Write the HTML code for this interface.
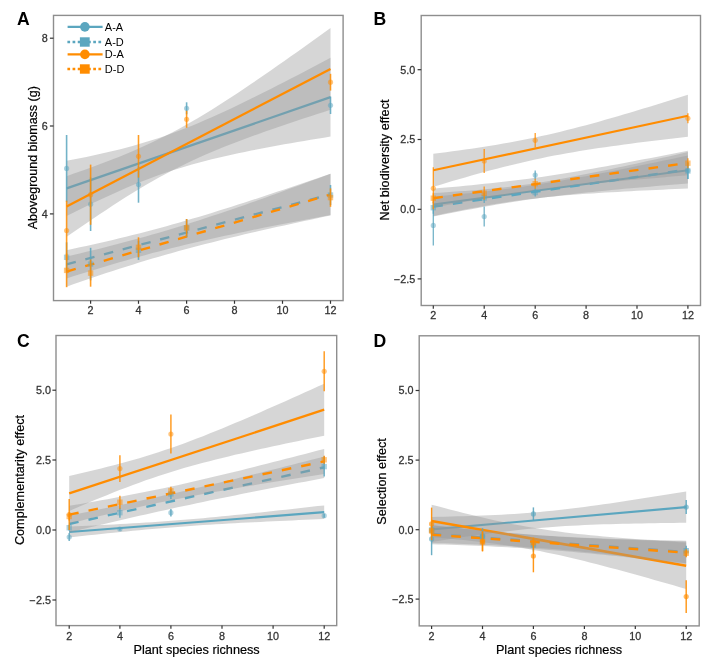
<!DOCTYPE html>
<html lang="en"><head><meta charset="utf-8"><title>Figure</title>
<style>
html,body{margin:0;padding:0;background:#fff;}
svg{display:block;}
text{font-family:"Liberation Sans", Arial, Helvetica, sans-serif;}
.tk{font-size:10px;fill:#333;stroke:#333;stroke-width:0.25px;}
.ti{font-size:12.7px;fill:#000;stroke:#000;stroke-width:0.2px;}
.lt{font-size:17.6px;font-weight:bold;fill:#000;}
.lg{font-size:11px;fill:#000;}
</style></head>
<body>
<svg width="714" height="662" viewBox="0 0 714 662">
<rect width="714" height="662" fill="#ffffff"/>
<g>
<path d="M66.6,160.83 L73.2,159.55 L79.79,158.24 L86.39,156.89 L92.99,155.5 L99.59,154.05 L106.18,152.56 L112.78,151 L119.38,149.38 L125.98,147.68 L132.57,145.91 L139.17,144.05 L145.77,142.1 L152.37,140.05 L158.96,137.9 L165.56,135.65 L172.16,133.3 L178.76,130.85 L185.35,128.3 L191.95,125.65 L198.55,122.92 L205.15,120.1 L211.74,117.2 L218.34,114.24 L224.94,111.21 L231.54,108.13 L238.13,104.99 L244.73,101.8 L251.33,98.58 L257.93,95.31 L264.52,92.02 L271.12,88.69 L277.72,85.34 L284.32,81.96 L290.91,78.56 L297.51,75.14 L304.11,71.71 L310.71,68.25 L317.3,64.79 L323.9,61.31 L330.5,57.82 L330.5,136.58 L323.9,137.65 L317.3,138.73 L310.71,139.83 L304.11,140.93 L297.51,142.06 L290.91,143.2 L284.32,144.36 L277.72,145.54 L271.12,146.75 L264.52,147.98 L257.93,149.25 L251.33,150.54 L244.73,151.88 L238.13,153.25 L231.54,154.67 L224.94,156.15 L218.34,157.68 L211.74,159.28 L205.15,160.94 L198.55,162.68 L191.95,164.51 L185.35,166.42 L178.76,168.43 L172.16,170.54 L165.56,172.75 L158.96,175.06 L152.37,177.47 L145.77,179.98 L139.17,182.59 L132.57,185.29 L125.98,188.08 L119.38,190.94 L112.78,193.88 L106.18,196.88 L99.59,199.95 L92.99,203.06 L86.39,206.23 L79.79,209.44 L73.2,212.69 L66.6,215.97Z" fill="#999999" fill-opacity="0.4"/>
<line x1="66.6" y1="188.4" x2="330.5" y2="97.2" stroke="#5BA6BF" stroke-width="2.3"/>
<path d="M66.6,250.16 L73.2,248.76 L79.79,247.34 L86.39,245.9 L92.99,244.44 L99.59,242.95 L106.18,241.44 L112.78,239.9 L119.38,238.33 L125.98,236.72 L132.57,235.09 L139.17,233.42 L145.77,231.72 L152.37,229.98 L158.96,228.21 L165.56,226.41 L172.16,224.57 L178.76,222.7 L185.35,220.79 L191.95,218.86 L198.55,216.9 L205.15,214.9 L211.74,212.89 L218.34,210.84 L224.94,208.78 L231.54,206.69 L238.13,204.59 L244.73,202.46 L251.33,200.32 L257.93,198.16 L264.52,195.99 L271.12,193.8 L277.72,191.6 L284.32,189.39 L290.91,187.17 L297.51,184.94 L304.11,182.7 L310.71,180.45 L317.3,178.2 L323.9,175.94 L330.5,173.67 L330.5,214.93 L323.9,216.16 L317.3,217.4 L310.71,218.65 L304.11,219.9 L297.51,221.16 L290.91,222.43 L284.32,223.71 L277.72,225 L271.12,226.3 L264.52,227.61 L257.93,228.94 L251.33,230.28 L244.73,231.64 L238.13,233.01 L231.54,234.41 L224.94,235.82 L218.34,237.26 L211.74,238.71 L205.15,240.2 L198.55,241.7 L191.95,243.24 L185.35,244.81 L178.76,246.4 L172.16,248.03 L165.56,249.69 L158.96,251.39 L152.37,253.12 L145.77,254.88 L139.17,256.68 L132.57,258.51 L125.98,260.38 L119.38,262.27 L112.78,264.2 L106.18,266.16 L99.59,268.15 L92.99,270.16 L86.39,272.2 L79.79,274.26 L73.2,276.34 L66.6,278.44Z" fill="#999999" fill-opacity="0.4"/>
<line x1="66.6" y1="264.3" x2="330.5" y2="194.3" stroke="#5BA6BF" stroke-width="2.35" stroke-dasharray="9.5 9.85"/>
<path d="M66.6,176.16 L73.2,173.87 L79.79,171.55 L86.39,169.19 L92.99,166.79 L99.59,164.34 L106.18,161.84 L112.78,159.28 L119.38,156.66 L125.98,153.96 L132.57,151.19 L139.17,148.32 L145.77,145.36 L152.37,142.3 L158.96,139.12 L165.56,135.83 L172.16,132.43 L178.76,128.91 L185.35,125.27 L191.95,121.52 L198.55,117.66 L205.15,113.7 L211.74,109.65 L218.34,105.52 L224.94,101.3 L231.54,97.02 L238.13,92.67 L244.73,88.27 L251.33,83.82 L257.93,79.32 L264.52,74.78 L271.12,70.21 L277.72,65.61 L284.32,60.98 L290.91,56.32 L297.51,51.65 L304.11,46.95 L310.71,42.24 L317.3,37.51 L323.9,32.76 L330.5,28 L330.5,109.8 L323.9,111.92 L317.3,114.05 L310.71,116.2 L304.11,118.37 L297.51,120.55 L290.91,122.76 L284.32,124.98 L277.72,127.23 L271.12,129.51 L264.52,131.82 L257.93,134.16 L251.33,136.54 L244.73,138.97 L238.13,141.45 L231.54,143.98 L224.94,146.58 L218.34,149.24 L211.74,151.99 L205.15,154.82 L198.55,157.74 L191.95,160.76 L185.35,163.89 L178.76,167.13 L172.16,170.49 L165.56,173.97 L158.96,177.56 L152.37,181.26 L145.77,185.08 L139.17,189 L132.57,193.01 L125.98,197.12 L119.38,201.3 L112.78,205.56 L106.18,209.88 L99.59,214.26 L92.99,218.69 L86.39,223.17 L79.79,227.69 L73.2,232.25 L66.6,236.84Z" fill="#999999" fill-opacity="0.4"/>
<line x1="66.6" y1="206.5" x2="330.5" y2="68.9" stroke="#FF8C00" stroke-width="2.3"/>
<path d="M66.6,256.55 L73.2,255 L79.79,253.44 L86.39,251.86 L92.99,250.26 L99.59,248.63 L106.18,246.98 L112.78,245.3 L119.38,243.58 L125.98,241.84 L132.57,240.07 L139.17,238.26 L145.77,236.42 L152.37,234.55 L158.96,232.64 L165.56,230.69 L172.16,228.71 L178.76,226.69 L185.35,224.64 L191.95,222.56 L198.55,220.44 L205.15,218.3 L211.74,216.12 L218.34,213.92 L224.94,211.7 L231.54,209.45 L238.13,207.17 L244.73,204.88 L251.33,202.57 L257.93,200.24 L264.52,197.89 L271.12,195.53 L277.72,193.15 L284.32,190.76 L290.91,188.36 L297.51,185.95 L304.11,183.53 L310.71,181.1 L317.3,178.66 L323.9,176.21 L330.5,173.75 L330.5,215.45 L323.9,216.84 L317.3,218.24 L310.71,219.65 L304.11,221.07 L297.51,222.5 L290.91,223.94 L284.32,225.39 L277.72,226.85 L271.12,228.32 L264.52,229.81 L257.93,231.31 L251.33,232.83 L244.73,234.37 L238.13,235.93 L231.54,237.5 L224.94,239.1 L218.34,240.73 L211.74,242.38 L205.15,244.05 L198.55,245.76 L191.95,247.49 L185.35,249.26 L178.76,251.06 L172.16,252.89 L165.56,254.76 L158.96,256.66 L152.37,258.6 L145.77,260.58 L139.17,262.59 L132.57,264.63 L125.98,266.71 L119.38,268.82 L112.78,270.95 L106.18,273.12 L99.59,275.32 L92.99,277.54 L86.39,279.79 L79.79,282.06 L73.2,284.35 L66.6,286.65Z" fill="#999999" fill-opacity="0.4"/>
<line x1="66.6" y1="271.6" x2="330.5" y2="194.6" stroke="#FF8C00" stroke-width="2.35" stroke-dasharray="9.5 9.85"/>
<line x1="66.6" y1="135" x2="66.6" y2="201.8" stroke="#5BA6BF" stroke-width="1.6" opacity="0.85"/>
<circle cx="66.6" cy="168.4" r="2.6" fill="#5BA6BF" opacity="0.5"/>
<line x1="90.6" y1="177.4" x2="90.6" y2="231" stroke="#5BA6BF" stroke-width="1.6" opacity="0.85"/>
<circle cx="90.6" cy="204.2" r="2.6" fill="#5BA6BF" opacity="0.5"/>
<line x1="138.5" y1="166.5" x2="138.5" y2="202.7" stroke="#5BA6BF" stroke-width="1.6" opacity="0.85"/>
<circle cx="138.5" cy="184.6" r="2.6" fill="#5BA6BF" opacity="0.5"/>
<line x1="186.6" y1="102.3" x2="186.6" y2="114.3" stroke="#5BA6BF" stroke-width="1.6" opacity="0.85"/>
<circle cx="186.6" cy="108.3" r="2.6" fill="#5BA6BF" opacity="0.5"/>
<line x1="330.5" y1="96.6" x2="330.5" y2="114" stroke="#5BA6BF" stroke-width="1.6" opacity="0.85"/>
<circle cx="330.5" cy="105.3" r="2.6" fill="#5BA6BF" opacity="0.5"/>
<line x1="66.6" y1="242.3" x2="66.6" y2="272.3" stroke="#5BA6BF" stroke-width="1.6" opacity="0.85"/>
<rect x="63.9" y="254.6" width="5.4" height="5.4" fill="#5BA6BF" opacity="0.5"/>
<line x1="90.6" y1="247.8" x2="90.6" y2="280.4" stroke="#5BA6BF" stroke-width="1.6" opacity="0.85"/>
<rect x="87.9" y="261.4" width="5.4" height="5.4" fill="#5BA6BF" opacity="0.5"/>
<line x1="138.5" y1="240.7" x2="138.5" y2="259.9" stroke="#5BA6BF" stroke-width="1.6" opacity="0.85"/>
<rect x="135.8" y="247.6" width="5.4" height="5.4" fill="#5BA6BF" opacity="0.5"/>
<line x1="186.6" y1="219" x2="186.6" y2="237" stroke="#5BA6BF" stroke-width="1.6" opacity="0.85"/>
<rect x="183.9" y="225.3" width="5.4" height="5.4" fill="#5BA6BF" opacity="0.5"/>
<line x1="330.5" y1="185" x2="330.5" y2="205" stroke="#5BA6BF" stroke-width="1.6" opacity="0.85"/>
<rect x="327.8" y="192.3" width="5.4" height="5.4" fill="#5BA6BF" opacity="0.5"/>
<line x1="66.6" y1="200.7" x2="66.6" y2="260.3" stroke="#FF8C00" stroke-width="1.6" opacity="0.85"/>
<circle cx="66.6" cy="230.5" r="2.6" fill="#FF8C00" opacity="0.5"/>
<line x1="90.6" y1="164.6" x2="90.6" y2="224.8" stroke="#FF8C00" stroke-width="1.6" opacity="0.85"/>
<circle cx="90.6" cy="194.7" r="2.6" fill="#FF8C00" opacity="0.5"/>
<line x1="138.5" y1="135" x2="138.5" y2="177.6" stroke="#FF8C00" stroke-width="1.6" opacity="0.85"/>
<circle cx="138.5" cy="156.3" r="2.6" fill="#FF8C00" opacity="0.5"/>
<line x1="186.6" y1="110.8" x2="186.6" y2="127.8" stroke="#FF8C00" stroke-width="1.6" opacity="0.85"/>
<circle cx="186.6" cy="119.3" r="2.6" fill="#FF8C00" opacity="0.5"/>
<line x1="330.5" y1="73.8" x2="330.5" y2="90.6" stroke="#FF8C00" stroke-width="1.6" opacity="0.85"/>
<circle cx="330.5" cy="82.2" r="2.6" fill="#FF8C00" opacity="0.5"/>
<line x1="66.6" y1="253.6" x2="66.6" y2="287.2" stroke="#FF8C00" stroke-width="1.6" opacity="0.85"/>
<rect x="63.9" y="267.7" width="5.4" height="5.4" fill="#FF8C00" opacity="0.5"/>
<line x1="90.6" y1="259.5" x2="90.6" y2="286.7" stroke="#FF8C00" stroke-width="1.6" opacity="0.85"/>
<rect x="87.9" y="270.4" width="5.4" height="5.4" fill="#FF8C00" opacity="0.5"/>
<line x1="138.5" y1="237.3" x2="138.5" y2="257.3" stroke="#FF8C00" stroke-width="1.6" opacity="0.85"/>
<rect x="135.8" y="244.6" width="5.4" height="5.4" fill="#FF8C00" opacity="0.5"/>
<line x1="186.6" y1="219" x2="186.6" y2="236.6" stroke="#FF8C00" stroke-width="1.6" opacity="0.85"/>
<rect x="183.9" y="225.1" width="5.4" height="5.4" fill="#FF8C00" opacity="0.5"/>
<line x1="330.5" y1="188.4" x2="330.5" y2="206.8" stroke="#FF8C00" stroke-width="1.6" opacity="0.85"/>
<rect x="327.8" y="194.9" width="5.4" height="5.4" fill="#FF8C00" opacity="0.5"/>
<rect x="53.5" y="15.4" width="289.6" height="285.2" fill="none" stroke="#8e8e8e" stroke-width="1.4"/>
<line x1="90.6" y1="300.6" x2="90.6" y2="303.8" stroke="#333" stroke-width="1.2"/>
<text transform="translate(90.6,313.9) scale(1.08,1)" text-anchor="middle" class="tk">2</text>
<line x1="138.5" y1="300.6" x2="138.5" y2="303.8" stroke="#333" stroke-width="1.2"/>
<text transform="translate(138.5,313.9) scale(1.08,1)" text-anchor="middle" class="tk">4</text>
<line x1="186.6" y1="300.6" x2="186.6" y2="303.8" stroke="#333" stroke-width="1.2"/>
<text transform="translate(186.6,313.9) scale(1.08,1)" text-anchor="middle" class="tk">6</text>
<line x1="234.5" y1="300.6" x2="234.5" y2="303.8" stroke="#333" stroke-width="1.2"/>
<text transform="translate(234.5,313.9) scale(1.08,1)" text-anchor="middle" class="tk">8</text>
<line x1="282.5" y1="300.6" x2="282.5" y2="303.8" stroke="#333" stroke-width="1.2"/>
<text transform="translate(282.5,313.9) scale(1.08,1)" text-anchor="middle" class="tk">10</text>
<line x1="330.5" y1="300.6" x2="330.5" y2="303.8" stroke="#333" stroke-width="1.2"/>
<text transform="translate(330.5,313.9) scale(1.08,1)" text-anchor="middle" class="tk">12</text>
<line x1="49.9" y1="38.2" x2="53.5" y2="38.2" stroke="#333" stroke-width="1.2"/>
<text transform="translate(47.8,42.1) scale(1.08,1)" text-anchor="end" class="tk">8</text>
<line x1="49.9" y1="126" x2="53.5" y2="126" stroke="#333" stroke-width="1.2"/>
<text transform="translate(47.8,129.9) scale(1.08,1)" text-anchor="end" class="tk">6</text>
<line x1="49.9" y1="213.9" x2="53.5" y2="213.9" stroke="#333" stroke-width="1.2"/>
<text transform="translate(47.8,217.8) scale(1.08,1)" text-anchor="end" class="tk">4</text>
<text transform="translate(36.8,157.7) rotate(-90)" text-anchor="middle" class="ti" style="font-size:12.5px">Aboveground biomass (g)</text>
<text x="17.1" y="24.8" class="lt">A</text>
</g>
<g>
<path d="M433.3,193.01 L439.67,192.63 L446.03,192.23 L452.39,191.81 L458.76,191.37 L465.12,190.91 L471.49,190.42 L477.86,189.9 L484.22,189.34 L490.59,188.75 L496.95,188.11 L503.31,187.42 L509.68,186.69 L516.04,185.9 L522.41,185.07 L528.77,184.17 L535.14,183.23 L541.5,182.23 L547.87,181.19 L554.24,180.1 L560.6,178.97 L566.97,177.8 L573.33,176.6 L579.69,175.37 L586.06,174.11 L592.42,172.83 L598.79,171.53 L605.15,170.21 L611.52,168.88 L617.88,167.53 L624.25,166.17 L630.62,164.79 L636.98,163.41 L643.35,162.02 L649.71,160.62 L656.08,159.22 L662.44,157.81 L668.8,156.39 L675.17,154.97 L681.53,153.54 L687.9,152.11 L687.9,188.49 L681.53,188.77 L675.17,189.05 L668.8,189.34 L662.44,189.63 L656.08,189.93 L649.71,190.24 L643.35,190.55 L636.98,190.87 L630.62,191.2 L624.25,191.53 L617.88,191.88 L611.52,192.24 L605.15,192.62 L598.79,193.01 L592.42,193.42 L586.06,193.85 L579.69,194.3 L573.33,194.78 L566.97,195.29 L560.6,195.83 L554.24,196.41 L547.87,197.03 L541.5,197.7 L535.14,198.41 L528.77,199.18 L522.41,199.99 L516.04,200.87 L509.68,201.79 L503.31,202.77 L496.95,203.79 L490.59,204.86 L484.22,205.98 L477.86,207.13 L471.49,208.32 L465.12,209.54 L458.76,210.79 L452.39,212.06 L446.03,213.35 L439.67,214.66 L433.3,215.99Z" fill="#999999" fill-opacity="0.4"/>
<line x1="433.3" y1="204.5" x2="687.9" y2="170.3" stroke="#5BA6BF" stroke-width="2.1"/>
<path d="M433.3,196.66 L439.67,196.08 L446.03,195.48 L452.39,194.87 L458.76,194.24 L465.12,193.6 L471.49,192.93 L477.86,192.25 L484.22,191.54 L490.59,190.81 L496.95,190.05 L503.31,189.26 L509.68,188.45 L516.04,187.6 L522.41,186.71 L528.77,185.79 L535.14,184.84 L541.5,183.86 L547.87,182.84 L554.24,181.79 L560.6,180.71 L566.97,179.61 L573.33,178.47 L579.69,177.31 L586.06,176.13 L592.42,174.93 L598.79,173.72 L605.15,172.48 L611.52,171.23 L617.88,169.97 L624.25,168.69 L630.62,167.41 L636.98,166.11 L643.35,164.81 L649.71,163.5 L656.08,162.18 L662.44,160.85 L668.8,159.52 L675.17,158.18 L681.53,156.84 L687.9,155.49 L687.9,183.51 L681.53,184.02 L675.17,184.53 L668.8,185.05 L662.44,185.57 L656.08,186.1 L649.71,186.63 L643.35,187.18 L636.98,187.73 L630.62,188.29 L624.25,188.86 L617.88,189.44 L611.52,190.03 L605.15,190.63 L598.79,191.25 L592.42,191.89 L586.06,192.55 L579.69,193.22 L573.33,193.92 L566.97,194.64 L560.6,195.39 L554.24,196.16 L547.87,196.97 L541.5,197.81 L535.14,198.68 L528.77,199.58 L522.41,200.52 L516.04,201.49 L509.68,202.49 L503.31,203.53 L496.95,204.6 L490.59,205.69 L484.22,206.82 L477.86,207.97 L471.49,209.14 L465.12,210.33 L458.76,211.54 L452.39,212.77 L446.03,214.01 L439.67,215.27 L433.3,216.54Z" fill="#999999" fill-opacity="0.4"/>
<line x1="433.3" y1="206.6" x2="687.9" y2="169.5" stroke="#5BA6BF" stroke-width="2.4" stroke-dasharray="9.6 10.15"/>
<path d="M433.3,153.79 L439.67,152.98 L446.03,152.16 L452.39,151.31 L458.76,150.45 L465.12,149.56 L471.49,148.64 L477.86,147.7 L484.22,146.73 L490.59,145.72 L496.95,144.68 L503.31,143.59 L509.68,142.46 L516.04,141.29 L522.41,140.07 L528.77,138.8 L535.14,137.48 L541.5,136.11 L547.87,134.68 L554.24,133.21 L560.6,131.68 L566.97,130.11 L573.33,128.5 L579.69,126.84 L586.06,125.15 L592.42,123.41 L598.79,121.65 L605.15,119.86 L611.52,118.03 L617.88,116.19 L624.25,114.32 L630.62,112.43 L636.98,110.53 L643.35,108.6 L649.71,106.67 L656.08,104.71 L662.44,102.75 L668.8,100.78 L675.17,98.79 L681.53,96.8 L687.9,94.8 L687.9,136.8 L681.53,137.52 L675.17,138.26 L668.8,139 L662.44,139.75 L656.08,140.51 L649.71,141.28 L643.35,142.07 L636.98,142.87 L630.62,143.69 L624.25,144.53 L617.88,145.39 L611.52,146.27 L605.15,147.17 L598.79,148.1 L592.42,149.06 L586.06,150.05 L579.69,151.08 L573.33,152.15 L566.97,153.26 L560.6,154.42 L554.24,155.62 L547.87,156.87 L541.5,158.17 L535.14,159.52 L528.77,160.92 L522.41,162.38 L516.04,163.88 L509.68,165.44 L503.31,167.03 L496.95,168.67 L490.59,170.35 L484.22,172.07 L477.86,173.82 L471.49,175.61 L465.12,177.42 L458.76,179.25 L452.39,181.11 L446.03,182.99 L439.67,184.89 L433.3,186.81Z" fill="#999999" fill-opacity="0.4"/>
<line x1="433.3" y1="170.3" x2="687.9" y2="115.8" stroke="#FF8C00" stroke-width="2.1"/>
<path d="M433.3,188.66 L439.67,188.1 L446.03,187.54 L452.39,186.96 L458.76,186.38 L465.12,185.77 L471.49,185.16 L477.86,184.52 L484.22,183.87 L490.59,183.2 L496.95,182.5 L503.31,181.79 L509.68,181.04 L516.04,180.27 L522.41,179.47 L528.77,178.64 L535.14,177.78 L541.5,176.88 L547.87,175.96 L554.24,175.01 L560.6,174.02 L566.97,173.01 L573.33,171.98 L579.69,170.92 L586.06,169.84 L592.42,168.73 L598.79,167.61 L605.15,166.47 L611.52,165.31 L617.88,164.14 L624.25,162.96 L630.62,161.77 L636.98,160.56 L643.35,159.35 L649.71,158.13 L656.08,156.9 L662.44,155.66 L668.8,154.42 L675.17,153.17 L681.53,151.92 L687.9,150.66 L687.9,175.34 L681.53,175.84 L675.17,176.35 L668.8,176.86 L662.44,177.38 L656.08,177.9 L649.71,178.43 L643.35,178.97 L636.98,179.52 L630.62,180.07 L624.25,180.64 L617.88,181.22 L611.52,181.81 L605.15,182.41 L598.79,183.03 L592.42,183.67 L586.06,184.32 L579.69,185 L573.33,185.7 L566.97,186.43 L560.6,187.18 L554.24,187.95 L547.87,188.76 L541.5,189.6 L535.14,190.46 L528.77,191.36 L522.41,192.29 L516.04,193.25 L509.68,194.24 L503.31,195.25 L496.95,196.3 L490.59,197.36 L484.22,198.45 L477.86,199.56 L471.49,200.68 L465.12,201.83 L458.76,202.98 L452.39,204.16 L446.03,205.34 L439.67,206.54 L433.3,207.74Z" fill="#999999" fill-opacity="0.4"/>
<line x1="433.3" y1="198.2" x2="687.9" y2="163" stroke="#FF8C00" stroke-width="2.4" stroke-dasharray="9.6 10.15"/>
<line x1="433.3" y1="205.4" x2="433.3" y2="245.4" stroke="#5BA6BF" stroke-width="1.3" opacity="0.85"/>
<circle cx="433.3" cy="225.4" r="2.6" fill="#5BA6BF" opacity="0.5"/>
<line x1="484.2" y1="206.6" x2="484.2" y2="226.6" stroke="#5BA6BF" stroke-width="1.3" opacity="0.85"/>
<circle cx="484.2" cy="216.6" r="2.6" fill="#5BA6BF" opacity="0.5"/>
<line x1="535.2" y1="170.6" x2="535.2" y2="179.6" stroke="#5BA6BF" stroke-width="1.3" opacity="0.85"/>
<circle cx="535.2" cy="175.1" r="2.6" fill="#5BA6BF" opacity="0.5"/>
<line x1="687.9" y1="162" x2="687.9" y2="179" stroke="#5BA6BF" stroke-width="1.3" opacity="0.85"/>
<circle cx="687.9" cy="170.5" r="2.6" fill="#5BA6BF" opacity="0.5"/>
<line x1="433.3" y1="201.7" x2="433.3" y2="213.7" stroke="#5BA6BF" stroke-width="1.3" opacity="0.85"/>
<rect x="430.6" y="205" width="5.4" height="5.4" fill="#5BA6BF" opacity="0.5"/>
<line x1="484.2" y1="193" x2="484.2" y2="203" stroke="#5BA6BF" stroke-width="1.3" opacity="0.85"/>
<rect x="481.5" y="195.3" width="5.4" height="5.4" fill="#5BA6BF" opacity="0.5"/>
<line x1="535.2" y1="188.5" x2="535.2" y2="196.5" stroke="#5BA6BF" stroke-width="1.3" opacity="0.85"/>
<rect x="532.5" y="189.8" width="5.4" height="5.4" fill="#5BA6BF" opacity="0.5"/>
<line x1="687.9" y1="163" x2="687.9" y2="179" stroke="#5BA6BF" stroke-width="1.3" opacity="0.85"/>
<rect x="685.2" y="168.3" width="5.4" height="5.4" fill="#5BA6BF" opacity="0.5"/>
<line x1="433.3" y1="167.3" x2="433.3" y2="209.3" stroke="#FF8C00" stroke-width="1.3" opacity="0.85"/>
<circle cx="433.3" cy="188.3" r="2.6" fill="#FF8C00" opacity="0.5"/>
<line x1="484.2" y1="149" x2="484.2" y2="173" stroke="#FF8C00" stroke-width="1.3" opacity="0.85"/>
<circle cx="484.2" cy="161" r="2.6" fill="#FF8C00" opacity="0.5"/>
<line x1="535.2" y1="133" x2="535.2" y2="147.6" stroke="#FF8C00" stroke-width="1.3" opacity="0.85"/>
<circle cx="535.2" cy="140.3" r="2.6" fill="#FF8C00" opacity="0.5"/>
<line x1="687.9" y1="113.3" x2="687.9" y2="123.3" stroke="#FF8C00" stroke-width="1.3" opacity="0.85"/>
<circle cx="687.9" cy="118.3" r="2.6" fill="#FF8C00" opacity="0.5"/>
<line x1="433.3" y1="193.2" x2="433.3" y2="203.2" stroke="#FF8C00" stroke-width="1.3" opacity="0.85"/>
<rect x="430.6" y="195.5" width="5.4" height="5.4" fill="#FF8C00" opacity="0.5"/>
<line x1="484.2" y1="186.6" x2="484.2" y2="199.8" stroke="#FF8C00" stroke-width="1.3" opacity="0.85"/>
<rect x="481.5" y="190.5" width="5.4" height="5.4" fill="#FF8C00" opacity="0.5"/>
<line x1="535.2" y1="178.7" x2="535.2" y2="188.7" stroke="#FF8C00" stroke-width="1.3" opacity="0.85"/>
<rect x="532.5" y="181" width="5.4" height="5.4" fill="#FF8C00" opacity="0.5"/>
<line x1="687.9" y1="158.2" x2="687.9" y2="168.2" stroke="#FF8C00" stroke-width="1.3" opacity="0.85"/>
<rect x="685.2" y="160.5" width="5.4" height="5.4" fill="#FF8C00" opacity="0.5"/>
<rect x="421.2" y="15.5" width="279.3" height="290" fill="none" stroke="#8e8e8e" stroke-width="1.4"/>
<line x1="433.3" y1="305.5" x2="433.3" y2="308.7" stroke="#333" stroke-width="1.2"/>
<text transform="translate(433.3,319.1) scale(1.08,1)" text-anchor="middle" class="tk">2</text>
<line x1="484.2" y1="305.5" x2="484.2" y2="308.7" stroke="#333" stroke-width="1.2"/>
<text transform="translate(484.2,319.1) scale(1.08,1)" text-anchor="middle" class="tk">4</text>
<line x1="535.2" y1="305.5" x2="535.2" y2="308.7" stroke="#333" stroke-width="1.2"/>
<text transform="translate(535.2,319.1) scale(1.08,1)" text-anchor="middle" class="tk">6</text>
<line x1="586.1" y1="305.5" x2="586.1" y2="308.7" stroke="#333" stroke-width="1.2"/>
<text transform="translate(586.1,319.1) scale(1.08,1)" text-anchor="middle" class="tk">8</text>
<line x1="637" y1="305.5" x2="637" y2="308.7" stroke="#333" stroke-width="1.2"/>
<text transform="translate(637,319.1) scale(1.08,1)" text-anchor="middle" class="tk">10</text>
<line x1="687.9" y1="305.5" x2="687.9" y2="308.7" stroke="#333" stroke-width="1.2"/>
<text transform="translate(687.9,319.1) scale(1.08,1)" text-anchor="middle" class="tk">12</text>
<line x1="417.6" y1="69.7" x2="421.2" y2="69.7" stroke="#333" stroke-width="1.2"/>
<text transform="translate(415.2,73.6) scale(1.08,1)" text-anchor="end" class="tk">5.0</text>
<line x1="417.6" y1="139.5" x2="421.2" y2="139.5" stroke="#333" stroke-width="1.2"/>
<text transform="translate(415.2,143.4) scale(1.08,1)" text-anchor="end" class="tk">2.5</text>
<line x1="417.6" y1="209.3" x2="421.2" y2="209.3" stroke="#333" stroke-width="1.2"/>
<text transform="translate(415.2,213.2) scale(1.08,1)" text-anchor="end" class="tk">0.0</text>
<line x1="417.6" y1="278.9" x2="421.2" y2="278.9" stroke="#333" stroke-width="1.2"/>
<text transform="translate(415.2,282.8) scale(1.08,1)" text-anchor="end" class="tk">−2.5</text>
<text transform="translate(388.6,160) rotate(-90)" text-anchor="middle" class="ti">Net biodiversity effect</text>
<text x="373.4" y="24.8" class="lt">B</text>
</g>
<g>
<path d="M69.2,526.61 L75.58,526.31 L81.95,526.01 L88.33,525.71 L94.7,525.39 L101.08,525.07 L107.45,524.75 L113.83,524.41 L120.2,524.06 L126.58,523.7 L132.95,523.33 L139.32,522.95 L145.7,522.55 L152.07,522.13 L158.45,521.7 L164.82,521.25 L171.2,520.77 L177.57,520.28 L183.95,519.77 L190.32,519.24 L196.7,518.69 L203.07,518.13 L209.45,517.54 L215.82,516.94 L222.2,516.33 L228.57,515.7 L234.95,515.06 L241.32,514.41 L247.7,513.76 L254.07,513.09 L260.45,512.41 L266.82,511.73 L273.2,511.05 L279.57,510.35 L285.95,509.66 L292.32,508.95 L298.7,508.25 L305.07,507.54 L311.45,506.83 L317.82,506.11 L324.2,505.4 L324.2,519 L317.82,519.28 L311.45,519.55 L305.07,519.83 L298.7,520.11 L292.32,520.4 L285.95,520.68 L279.57,520.98 L273.2,521.27 L266.82,521.58 L260.45,521.89 L254.07,522.2 L247.7,522.52 L241.32,522.86 L234.95,523.2 L228.57,523.55 L222.2,523.91 L215.82,524.29 L209.45,524.68 L203.07,525.08 L196.7,525.51 L190.32,525.95 L183.95,526.41 L177.57,526.89 L171.2,527.39 L164.82,527.9 L158.45,528.44 L152.07,529 L145.7,529.57 L139.32,530.16 L132.95,530.77 L126.58,531.39 L120.2,532.02 L113.83,532.66 L107.45,533.31 L101.08,533.98 L94.7,534.65 L88.33,535.32 L81.95,536.01 L75.58,536.7 L69.2,537.39Z" fill="#999999" fill-opacity="0.4"/>
<line x1="69.2" y1="532" x2="324.2" y2="512.2" stroke="#5BA6BF" stroke-width="2.2"/>
<path d="M69.2,515.55 L75.58,514.27 L81.95,512.98 L88.33,511.68 L94.7,510.38 L101.08,509.06 L107.45,507.74 L113.83,506.4 L120.2,505.06 L126.58,503.7 L132.95,502.33 L139.32,500.95 L145.7,499.56 L152.07,498.16 L158.45,496.75 L164.82,495.32 L171.2,493.88 L177.57,492.43 L183.95,490.97 L190.32,489.5 L196.7,488.02 L203.07,486.53 L209.45,485.02 L215.82,483.51 L222.2,481.98 L228.57,480.45 L234.95,478.91 L241.32,477.36 L247.7,475.8 L254.07,474.23 L260.45,472.66 L266.82,471.08 L273.2,469.49 L279.57,467.9 L285.95,466.3 L292.32,464.69 L298.7,463.08 L305.07,461.47 L311.45,459.85 L317.82,458.22 L324.2,456.59 L324.2,478.01 L317.82,479.21 L311.45,480.42 L305.07,481.64 L298.7,482.86 L292.32,484.08 L285.95,485.31 L279.57,486.55 L273.2,487.79 L266.82,489.04 L260.45,490.29 L254.07,491.55 L247.7,492.82 L241.32,494.1 L234.95,495.38 L228.57,496.67 L222.2,497.98 L215.82,499.29 L209.45,500.61 L203.07,501.94 L196.7,503.28 L190.32,504.63 L183.95,506 L177.57,507.37 L171.2,508.76 L164.82,510.15 L158.45,511.56 L152.07,512.98 L145.7,514.42 L139.32,515.86 L132.95,517.32 L126.58,518.78 L120.2,520.26 L113.83,521.75 L107.45,523.25 L101.08,524.76 L94.7,526.28 L88.33,527.81 L81.95,529.35 L75.58,530.9 L69.2,532.45Z" fill="#999999" fill-opacity="0.4"/>
<line x1="69.2" y1="524" x2="324.2" y2="467.3" stroke="#5BA6BF" stroke-width="2.4" stroke-dasharray="9.6 10.15"/>
<path d="M69.2,475.88 L75.58,474.44 L81.95,472.97 L88.33,471.48 L94.7,469.96 L101.08,468.4 L107.45,466.81 L113.83,465.17 L120.2,463.49 L126.58,461.76 L132.95,459.97 L139.32,458.13 L145.7,456.22 L152.07,454.25 L158.45,452.21 L164.82,450.11 L171.2,447.93 L177.57,445.69 L183.95,443.39 L190.32,441.02 L196.7,438.6 L203.07,436.13 L209.45,433.6 L215.82,431.04 L222.2,428.43 L228.57,425.79 L234.95,423.12 L241.32,420.41 L247.7,417.69 L254.07,414.93 L260.45,412.16 L266.82,409.37 L273.2,406.57 L279.57,403.75 L285.95,400.91 L292.32,398.07 L298.7,395.21 L305.07,392.35 L311.45,389.47 L317.82,386.59 L324.2,383.7 L324.2,435.7 L317.82,436.99 L311.45,438.3 L305.07,439.61 L298.7,440.93 L292.32,442.26 L285.95,443.6 L279.57,444.95 L273.2,446.31 L266.82,447.69 L260.45,449.09 L254.07,450.5 L247.7,451.93 L241.32,453.39 L234.95,454.87 L228.57,456.39 L222.2,457.93 L215.82,459.51 L209.45,461.13 L203.07,462.79 L196.7,464.5 L190.32,466.26 L183.95,468.08 L177.57,469.96 L171.2,471.91 L164.82,473.92 L158.45,476 L152.07,478.15 L145.7,480.36 L139.32,482.64 L132.95,484.98 L126.58,487.38 L120.2,489.83 L113.83,492.34 L107.45,494.88 L101.08,497.48 L94.7,500.1 L88.33,502.77 L81.95,505.46 L75.58,508.17 L69.2,510.92Z" fill="#999999" fill-opacity="0.4"/>
<line x1="69.2" y1="493.4" x2="324.2" y2="409.7" stroke="#FF8C00" stroke-width="2.3"/>
<path d="M69.2,505.81 L75.58,504.73 L81.95,503.64 L88.33,502.54 L94.7,501.42 L101.08,500.29 L107.45,499.14 L113.83,497.98 L120.2,496.79 L126.58,495.59 L132.95,494.36 L139.32,493.12 L145.7,491.85 L152.07,490.55 L158.45,489.23 L164.82,487.89 L171.2,486.53 L177.57,485.14 L183.95,483.72 L190.32,482.29 L196.7,480.83 L203.07,479.35 L209.45,477.86 L215.82,476.34 L222.2,474.81 L228.57,473.27 L234.95,471.71 L241.32,470.14 L247.7,468.55 L254.07,466.95 L260.45,465.35 L266.82,463.73 L273.2,462.11 L279.57,460.48 L285.95,458.84 L292.32,457.19 L298.7,455.54 L305.07,453.88 L311.45,452.22 L317.82,450.56 L324.2,448.88 L324.2,473.92 L317.82,474.91 L311.45,475.91 L305.07,476.91 L298.7,477.92 L292.32,478.93 L285.95,479.95 L279.57,480.98 L273.2,482.01 L266.82,483.05 L260.45,484.1 L254.07,485.16 L247.7,486.23 L241.32,487.31 L234.95,488.4 L228.57,489.51 L222.2,490.63 L215.82,491.76 L209.45,492.91 L203.07,494.08 L196.7,495.27 L190.32,496.48 L183.95,497.71 L177.57,498.96 L171.2,500.23 L164.82,501.53 L158.45,502.86 L152.07,504.2 L145.7,505.57 L139.32,506.97 L132.95,508.39 L126.58,509.83 L120.2,511.29 L113.83,512.77 L107.45,514.27 L101.08,515.78 L94.7,517.32 L88.33,518.87 L81.95,520.43 L75.58,522 L69.2,523.59Z" fill="#999999" fill-opacity="0.4"/>
<line x1="69.2" y1="514.7" x2="324.2" y2="461.4" stroke="#FF8C00" stroke-width="2.4" stroke-dasharray="9.6 10.15"/>
<line x1="69.2" y1="532.9" x2="69.2" y2="541.1" stroke="#5BA6BF" stroke-width="1.5" opacity="0.85"/>
<circle cx="69.2" cy="537" r="2.6" fill="#5BA6BF" opacity="0.5"/>
<line x1="119.9" y1="527.5" x2="119.9" y2="530.5" stroke="#5BA6BF" stroke-width="1.5" opacity="0.85"/>
<circle cx="119.9" cy="529" r="2.6" fill="#5BA6BF" opacity="0.5"/>
<line x1="170.9" y1="508.9" x2="170.9" y2="516.5" stroke="#5BA6BF" stroke-width="1.5" opacity="0.85"/>
<circle cx="170.9" cy="512.7" r="2.6" fill="#5BA6BF" opacity="0.5"/>
<line x1="324.2" y1="513.7" x2="324.2" y2="517.7" stroke="#5BA6BF" stroke-width="1.5" opacity="0.85"/>
<circle cx="324.2" cy="515.7" r="2.6" fill="#5BA6BF" opacity="0.5"/>
<line x1="69.2" y1="524.7" x2="69.2" y2="530.7" stroke="#5BA6BF" stroke-width="1.5" opacity="0.85"/>
<rect x="66.5" y="525" width="5.4" height="5.4" fill="#5BA6BF" opacity="0.5"/>
<line x1="119.9" y1="507.7" x2="119.9" y2="517.7" stroke="#5BA6BF" stroke-width="1.5" opacity="0.85"/>
<rect x="117.2" y="510" width="5.4" height="5.4" fill="#5BA6BF" opacity="0.5"/>
<line x1="170.9" y1="488.9" x2="170.9" y2="498.9" stroke="#5BA6BF" stroke-width="1.5" opacity="0.85"/>
<rect x="168.2" y="491.2" width="5.4" height="5.4" fill="#5BA6BF" opacity="0.5"/>
<line x1="324.2" y1="456.6" x2="324.2" y2="476.6" stroke="#5BA6BF" stroke-width="1.5" opacity="0.85"/>
<rect x="321.5" y="463.9" width="5.4" height="5.4" fill="#5BA6BF" opacity="0.5"/>
<line x1="69.2" y1="499.1" x2="69.2" y2="529.9" stroke="#FF8C00" stroke-width="1.5" opacity="0.85"/>
<circle cx="69.2" cy="514.5" r="2.6" fill="#FF8C00" opacity="0.5"/>
<line x1="119.9" y1="455.3" x2="119.9" y2="481.9" stroke="#FF8C00" stroke-width="1.5" opacity="0.85"/>
<circle cx="119.9" cy="468.6" r="2.6" fill="#FF8C00" opacity="0.5"/>
<line x1="170.9" y1="414.5" x2="170.9" y2="453.5" stroke="#FF8C00" stroke-width="1.5" opacity="0.85"/>
<circle cx="170.9" cy="434" r="2.6" fill="#FF8C00" opacity="0.5"/>
<line x1="324.2" y1="351.3" x2="324.2" y2="391.3" stroke="#FF8C00" stroke-width="1.5" opacity="0.85"/>
<circle cx="324.2" cy="371.3" r="2.6" fill="#FF8C00" opacity="0.5"/>
<line x1="69.2" y1="512.5" x2="69.2" y2="520.5" stroke="#FF8C00" stroke-width="1.5" opacity="0.85"/>
<rect x="66.5" y="513.8" width="5.4" height="5.4" fill="#FF8C00" opacity="0.5"/>
<line x1="119.9" y1="495.7" x2="119.9" y2="508.7" stroke="#FF8C00" stroke-width="1.5" opacity="0.85"/>
<rect x="117.2" y="499.5" width="5.4" height="5.4" fill="#FF8C00" opacity="0.5"/>
<line x1="170.9" y1="486.8" x2="170.9" y2="494.8" stroke="#FF8C00" stroke-width="1.5" opacity="0.85"/>
<rect x="168.2" y="488.1" width="5.4" height="5.4" fill="#FF8C00" opacity="0.5"/>
<line x1="324.2" y1="455.8" x2="324.2" y2="463.8" stroke="#FF8C00" stroke-width="1.5" opacity="0.85"/>
<rect x="321.5" y="457.1" width="5.4" height="5.4" fill="#FF8C00" opacity="0.5"/>
<rect x="56" y="335.5" width="280.7" height="290.1" fill="none" stroke="#8e8e8e" stroke-width="1.4"/>
<line x1="69.2" y1="625.6" x2="69.2" y2="628.8" stroke="#333" stroke-width="1.2"/>
<text transform="translate(69.2,640) scale(1.08,1)" text-anchor="middle" class="tk">2</text>
<line x1="119.9" y1="625.6" x2="119.9" y2="628.8" stroke="#333" stroke-width="1.2"/>
<text transform="translate(119.9,640) scale(1.08,1)" text-anchor="middle" class="tk">4</text>
<line x1="170.9" y1="625.6" x2="170.9" y2="628.8" stroke="#333" stroke-width="1.2"/>
<text transform="translate(170.9,640) scale(1.08,1)" text-anchor="middle" class="tk">6</text>
<line x1="222" y1="625.6" x2="222" y2="628.8" stroke="#333" stroke-width="1.2"/>
<text transform="translate(222,640) scale(1.08,1)" text-anchor="middle" class="tk">8</text>
<line x1="273.1" y1="625.6" x2="273.1" y2="628.8" stroke="#333" stroke-width="1.2"/>
<text transform="translate(273.1,640) scale(1.08,1)" text-anchor="middle" class="tk">10</text>
<line x1="324.2" y1="625.6" x2="324.2" y2="628.8" stroke="#333" stroke-width="1.2"/>
<text transform="translate(324.2,640) scale(1.08,1)" text-anchor="middle" class="tk">12</text>
<line x1="52.4" y1="390.2" x2="56" y2="390.2" stroke="#333" stroke-width="1.2"/>
<text transform="translate(50.9,394.1) scale(1.08,1)" text-anchor="end" class="tk">5.0</text>
<line x1="52.4" y1="460" x2="56" y2="460" stroke="#333" stroke-width="1.2"/>
<text transform="translate(50.9,463.9) scale(1.08,1)" text-anchor="end" class="tk">2.5</text>
<line x1="52.4" y1="530" x2="56" y2="530" stroke="#333" stroke-width="1.2"/>
<text transform="translate(50.9,533.9) scale(1.08,1)" text-anchor="end" class="tk">0.0</text>
<line x1="52.4" y1="600" x2="56" y2="600" stroke="#333" stroke-width="1.2"/>
<text transform="translate(50.9,603.9) scale(1.08,1)" text-anchor="end" class="tk">−2.5</text>
<text transform="translate(24,480) rotate(-90)" text-anchor="middle" class="ti">Complementarity effect</text>
<text x="196.6" y="653.7" text-anchor="middle" class="ti">Plant species richness</text>
<text x="17.1" y="346.6" class="lt">C</text>
</g>
<g>
<path d="M431.6,516.91 L437.97,516.79 L444.33,516.66 L450.7,516.52 L457.06,516.35 L463.43,516.18 L469.79,515.98 L476.16,515.76 L482.52,515.52 L488.89,515.26 L495.25,514.96 L501.62,514.64 L507.98,514.28 L514.35,513.88 L520.71,513.45 L527.08,512.98 L533.44,512.47 L539.81,511.92 L546.17,511.32 L552.54,510.69 L558.9,510.01 L565.26,509.3 L571.63,508.55 L578,507.76 L584.36,506.95 L590.73,506.1 L597.09,505.24 L603.46,504.34 L609.82,503.43 L616.19,502.49 L622.55,501.54 L628.91,500.58 L635.28,499.6 L641.64,498.6 L648.01,497.6 L654.38,496.59 L660.74,495.56 L667.11,494.53 L673.47,493.49 L679.84,492.45 L686.2,491.39 L686.2,522.81 L679.84,522.87 L673.47,522.94 L667.11,523.01 L660.74,523.1 L654.38,523.19 L648.01,523.29 L641.64,523.4 L635.28,523.52 L628.91,523.66 L622.55,523.81 L616.19,523.97 L609.82,524.15 L603.46,524.35 L597.09,524.57 L590.73,524.82 L584.36,525.09 L578,525.39 L571.63,525.72 L565.26,526.09 L558.9,526.49 L552.54,526.93 L546.17,527.41 L539.81,527.93 L533.44,528.49 L527.08,529.09 L520.71,529.74 L514.35,530.42 L507.98,531.14 L501.62,531.9 L495.25,532.69 L488.89,533.51 L482.52,534.36 L476.16,535.23 L469.79,536.13 L463.43,537.05 L457.06,537.99 L450.7,538.94 L444.33,539.91 L437.97,540.89 L431.6,541.89Z" fill="#999999" fill-opacity="0.4"/>
<line x1="431.6" y1="529.4" x2="686.2" y2="507.1" stroke="#5BA6BF" stroke-width="2.1"/>
<path d="M431.6,525 L437.97,525.72 L444.33,526.43 L450.7,527.12 L457.06,527.81 L463.43,528.49 L469.79,529.15 L476.16,529.79 L482.52,530.42 L488.89,531.04 L495.25,531.63 L501.62,532.21 L507.98,532.77 L514.35,533.3 L520.71,533.81 L527.08,534.3 L533.44,534.77 L539.81,535.21 L546.17,535.63 L552.54,536.03 L558.9,536.4 L565.26,536.76 L571.63,537.09 L578,537.4 L584.36,537.69 L590.73,537.97 L597.09,538.23 L603.46,538.47 L609.82,538.7 L616.19,538.92 L622.55,539.13 L628.91,539.32 L635.28,539.51 L641.64,539.69 L648.01,539.85 L654.38,540.02 L660.74,540.17 L667.11,540.32 L673.47,540.46 L679.84,540.6 L686.2,540.73 L686.2,563.27 L679.84,562.5 L673.47,561.74 L667.11,560.98 L660.74,560.23 L654.38,559.48 L648.01,558.75 L641.64,558.01 L635.28,557.29 L628.91,556.58 L622.55,555.87 L616.19,555.18 L609.82,554.5 L603.46,553.83 L597.09,553.17 L590.73,552.53 L584.36,551.91 L578,551.3 L571.63,550.71 L565.26,550.14 L558.9,549.6 L552.54,549.07 L546.17,548.57 L539.81,548.09 L533.44,547.63 L527.08,547.2 L520.71,546.79 L514.35,546.4 L507.98,546.03 L501.62,545.69 L495.25,545.37 L488.89,545.06 L482.52,544.78 L476.16,544.51 L469.79,544.25 L463.43,544.01 L457.06,543.79 L450.7,543.58 L444.33,543.37 L437.97,543.18 L431.6,543Z" fill="#999999" fill-opacity="0.4"/>
<line x1="431.6" y1="534" x2="686.2" y2="552" stroke="#5BA6BF" stroke-width="2.4" stroke-dasharray="9.6 10.15"/>
<path d="M431.6,504.63 L437.97,506.34 L444.33,508.03 L450.7,509.7 L457.06,511.34 L463.43,512.95 L469.79,514.53 L476.16,516.08 L482.52,517.59 L488.89,519.05 L495.25,520.47 L501.62,521.84 L507.98,523.15 L514.35,524.41 L520.71,525.61 L527.08,526.75 L533.44,527.83 L539.81,528.85 L546.17,529.82 L552.54,530.73 L558.9,531.58 L565.26,532.39 L571.63,533.15 L578,533.88 L584.36,534.56 L590.73,535.21 L597.09,535.83 L603.46,536.42 L609.82,536.99 L616.19,537.54 L622.55,538.06 L628.91,538.57 L635.28,539.06 L641.64,539.54 L648.01,540.01 L654.38,540.46 L660.74,540.9 L667.11,541.34 L673.47,541.76 L679.84,542.18 L686.2,542.59 L686.2,589.01 L679.84,587.17 L673.47,585.35 L667.11,583.53 L660.74,581.72 L654.38,579.91 L648.01,578.12 L641.64,576.34 L635.28,574.58 L628.91,572.83 L622.55,571.09 L616.19,569.37 L609.82,567.67 L603.46,565.99 L597.09,564.34 L590.73,562.71 L584.36,561.12 L578,559.56 L571.63,558.04 L565.26,556.55 L558.9,555.12 L552.54,553.73 L546.17,552.39 L539.81,551.11 L533.44,549.89 L527.08,548.72 L520.71,547.62 L514.35,546.57 L507.98,545.59 L501.62,544.66 L495.25,543.78 L488.89,542.95 L482.52,542.17 L476.16,541.43 L469.79,540.74 L463.43,540.07 L457.06,539.44 L450.7,538.84 L444.33,538.26 L437.97,537.71 L431.6,537.17Z" fill="#999999" fill-opacity="0.4"/>
<line x1="431.6" y1="520.9" x2="686.2" y2="565.8" stroke="#FF8C00" stroke-width="2.5"/>
<path d="M431.6,525.19 L437.97,525.9 L444.33,526.6 L450.7,527.29 L457.06,527.97 L463.43,528.63 L469.79,529.29 L476.16,529.93 L482.52,530.56 L488.89,531.17 L495.25,531.77 L501.62,532.34 L507.98,532.9 L514.35,533.45 L520.71,533.97 L527.08,534.47 L533.44,534.95 L539.81,535.41 L546.17,535.84 L552.54,536.26 L558.9,536.65 L565.26,537.03 L571.63,537.38 L578,537.72 L584.36,538.04 L590.73,538.34 L597.09,538.62 L603.46,538.89 L609.82,539.15 L616.19,539.39 L622.55,539.62 L628.91,539.84 L635.28,540.05 L641.64,540.25 L648.01,540.44 L654.38,540.62 L660.74,540.79 L667.11,540.96 L673.47,541.12 L679.84,541.27 L686.2,541.42 L686.2,563.98 L679.84,563.23 L673.47,562.48 L667.11,561.74 L660.74,561.01 L654.38,560.28 L648.01,559.56 L641.64,558.85 L635.28,558.15 L628.91,557.46 L622.55,556.78 L616.19,556.11 L609.82,555.45 L603.46,554.81 L597.09,554.18 L590.73,553.56 L584.36,552.96 L578,552.38 L571.63,551.82 L565.26,551.27 L558.9,550.75 L552.54,550.24 L546.17,549.76 L539.81,549.29 L533.44,548.85 L527.08,548.43 L520.71,548.03 L514.35,547.65 L507.98,547.3 L501.62,546.96 L495.25,546.63 L488.89,546.33 L482.52,546.04 L476.16,545.77 L469.79,545.51 L463.43,545.27 L457.06,545.03 L450.7,544.81 L444.33,544.6 L437.97,544.4 L431.6,544.21Z" fill="#999999" fill-opacity="0.4"/>
<line x1="431.6" y1="534.7" x2="686.2" y2="552.7" stroke="#FF8C00" stroke-width="2.4" stroke-dasharray="9.6 10.15"/>
<line x1="431.6" y1="522.6" x2="431.6" y2="555.2" stroke="#5BA6BF" stroke-width="1.45" opacity="0.9"/>
<circle cx="431.6" cy="538.9" r="2.6" fill="#5BA6BF" opacity="0.62"/>
<line x1="482.5" y1="528.2" x2="482.5" y2="544.6" stroke="#5BA6BF" stroke-width="1.45" opacity="0.9"/>
<circle cx="482.5" cy="536.4" r="2.6" fill="#5BA6BF" opacity="0.62"/>
<line x1="533.4" y1="507.4" x2="533.4" y2="520.4" stroke="#5BA6BF" stroke-width="1.45" opacity="0.9"/>
<circle cx="533.4" cy="513.9" r="2.6" fill="#5BA6BF" opacity="0.62"/>
<line x1="686.2" y1="500.1" x2="686.2" y2="514.1" stroke="#5BA6BF" stroke-width="1.45" opacity="0.9"/>
<circle cx="686.2" cy="507.1" r="2.6" fill="#5BA6BF" opacity="0.62"/>
<line x1="431.6" y1="526" x2="431.6" y2="534" stroke="#5BA6BF" stroke-width="1.45" opacity="0.9"/>
<rect x="428.9" y="527.3" width="5.4" height="5.4" fill="#5BA6BF" opacity="0.62"/>
<line x1="482.5" y1="531.4" x2="482.5" y2="541.4" stroke="#5BA6BF" stroke-width="1.45" opacity="0.9"/>
<rect x="479.8" y="533.7" width="5.4" height="5.4" fill="#5BA6BF" opacity="0.62"/>
<line x1="533.4" y1="538.5" x2="533.4" y2="551.5" stroke="#5BA6BF" stroke-width="1.45" opacity="0.9"/>
<rect x="530.7" y="542.3" width="5.4" height="5.4" fill="#5BA6BF" opacity="0.62"/>
<line x1="686.2" y1="545.7" x2="686.2" y2="555.7" stroke="#5BA6BF" stroke-width="1.45" opacity="0.9"/>
<rect x="683.5" y="548" width="5.4" height="5.4" fill="#5BA6BF" opacity="0.62"/>
<line x1="431.6" y1="507.6" x2="431.6" y2="540.2" stroke="#FF8C00" stroke-width="1.45" opacity="0.9"/>
<circle cx="431.6" cy="523.9" r="2.6" fill="#FF8C00" opacity="0.62"/>
<line x1="482.5" y1="531" x2="482.5" y2="551" stroke="#FF8C00" stroke-width="1.45" opacity="0.9"/>
<circle cx="482.5" cy="541" r="2.6" fill="#FF8C00" opacity="0.62"/>
<line x1="533.4" y1="539.7" x2="533.4" y2="572.3" stroke="#FF8C00" stroke-width="1.45" opacity="0.9"/>
<circle cx="533.4" cy="556" r="2.6" fill="#FF8C00" opacity="0.62"/>
<line x1="686.2" y1="580.3" x2="686.2" y2="612.9" stroke="#FF8C00" stroke-width="1.45" opacity="0.9"/>
<circle cx="686.2" cy="596.6" r="2.6" fill="#FF8C00" opacity="0.62"/>
<line x1="431.6" y1="526.9" x2="431.6" y2="534.9" stroke="#FF8C00" stroke-width="1.45" opacity="0.9"/>
<rect x="428.9" y="528.2" width="5.4" height="5.4" fill="#FF8C00" opacity="0.62"/>
<line x1="482.5" y1="532.3" x2="482.5" y2="551.5" stroke="#FF8C00" stroke-width="1.45" opacity="0.9"/>
<rect x="479.8" y="539.2" width="5.4" height="5.4" fill="#FF8C00" opacity="0.62"/>
<line x1="533.4" y1="537.7" x2="533.4" y2="547.7" stroke="#FF8C00" stroke-width="1.45" opacity="0.9"/>
<rect x="530.7" y="540" width="5.4" height="5.4" fill="#FF8C00" opacity="0.62"/>
<line x1="686.2" y1="549.2" x2="686.2" y2="557.2" stroke="#FF8C00" stroke-width="1.45" opacity="0.9"/>
<rect x="683.5" y="550.5" width="5.4" height="5.4" fill="#FF8C00" opacity="0.62"/>
<rect x="419.2" y="335.8" width="280" height="290.1" fill="none" stroke="#8e8e8e" stroke-width="1.4"/>
<line x1="431.6" y1="625.9" x2="431.6" y2="629.1" stroke="#333" stroke-width="1.2"/>
<text transform="translate(431.6,640) scale(1.08,1)" text-anchor="middle" class="tk">2</text>
<line x1="482.5" y1="625.9" x2="482.5" y2="629.1" stroke="#333" stroke-width="1.2"/>
<text transform="translate(482.5,640) scale(1.08,1)" text-anchor="middle" class="tk">4</text>
<line x1="533.4" y1="625.9" x2="533.4" y2="629.1" stroke="#333" stroke-width="1.2"/>
<text transform="translate(533.4,640) scale(1.08,1)" text-anchor="middle" class="tk">6</text>
<line x1="584.4" y1="625.9" x2="584.4" y2="629.1" stroke="#333" stroke-width="1.2"/>
<text transform="translate(584.4,640) scale(1.08,1)" text-anchor="middle" class="tk">8</text>
<line x1="635.3" y1="625.9" x2="635.3" y2="629.1" stroke="#333" stroke-width="1.2"/>
<text transform="translate(635.3,640) scale(1.08,1)" text-anchor="middle" class="tk">10</text>
<line x1="686.2" y1="625.9" x2="686.2" y2="629.1" stroke="#333" stroke-width="1.2"/>
<text transform="translate(686.2,640) scale(1.08,1)" text-anchor="middle" class="tk">12</text>
<line x1="415.6" y1="390.5" x2="419.2" y2="390.5" stroke="#333" stroke-width="1.2"/>
<text transform="translate(413.6,394.4) scale(1.08,1)" text-anchor="end" class="tk">5.0</text>
<line x1="415.6" y1="460.1" x2="419.2" y2="460.1" stroke="#333" stroke-width="1.2"/>
<text transform="translate(413.6,464) scale(1.08,1)" text-anchor="end" class="tk">2.5</text>
<line x1="415.6" y1="529.7" x2="419.2" y2="529.7" stroke="#333" stroke-width="1.2"/>
<text transform="translate(413.6,533.6) scale(1.08,1)" text-anchor="end" class="tk">0.0</text>
<line x1="415.6" y1="599.1" x2="419.2" y2="599.1" stroke="#333" stroke-width="1.2"/>
<text transform="translate(413.6,603) scale(1.08,1)" text-anchor="end" class="tk">−2.5</text>
<text transform="translate(386.4,481.4) rotate(-90)" text-anchor="middle" class="ti">Selection effect</text>
<text x="559" y="653.7" text-anchor="middle" class="ti">Plant species richness</text>
<text x="373.4" y="346.6" class="lt">D</text>
</g>
<line x1="67.6" y1="26.9" x2="102.6" y2="26.9" stroke="#5BA6BF" stroke-width="2.3"/>
<circle cx="84.9" cy="26.9" r="4.8" fill="#5BA6BF"/>
<text x="104.8" y="30.7" class="lg">A-A</text>
<line x1="67.4" y1="42" x2="102.6" y2="42" stroke="#5BA6BF" stroke-width="2.6" stroke-dasharray="2.7 2.47"/>
<rect x="79.9" y="37.3" width="9.8" height="9.4" fill="#5BA6BF"/>
<text x="104.8" y="45.8" class="lg">A-D</text>
<line x1="67.6" y1="54.4" x2="102.6" y2="54.4" stroke="#FF8C00" stroke-width="2.3"/>
<circle cx="84.9" cy="54.4" r="4.8" fill="#FF8C00"/>
<text x="104.8" y="57.8" class="lg">D-A</text>
<line x1="67.4" y1="69" x2="102.6" y2="69" stroke="#FF8C00" stroke-width="2.6" stroke-dasharray="2.7 2.47"/>
<rect x="79.9" y="64.3" width="9.8" height="9.4" fill="#FF8C00"/>
<text x="104.8" y="72.8" class="lg">D-D</text>
</svg>
</body></html>
